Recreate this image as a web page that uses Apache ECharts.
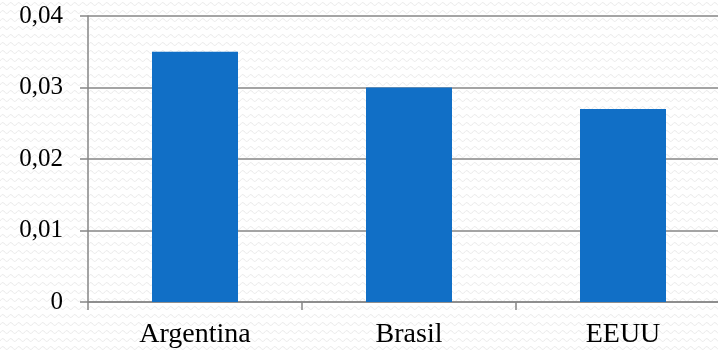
<!DOCTYPE html>
<html><head><meta charset="utf-8">
<script src="https://cdn.jsdelivr.net/npm/echarts@6/dist/echarts.min.js"></script>
<style>html,body{margin:0;padding:0;background:#fff;overflow:hidden}#c{width:730px;height:351px}</style>
</head><body><div id="c"></div>
<script>
var categories = ['Argentina', 'Brasil', 'EEUU'];
var values = [0.035, 0.03, 0.027];
var yTicks = [0, 0.01, 0.02, 0.03, 0.04];

// subtle wavy background pattern
var pc = document.createElement('canvas');
pc.width = 8; pc.height = 8;
var g = pc.getContext('2d');
g.fillStyle = '#ffffff'; g.fillRect(0, 0, 8, 8);
g.strokeStyle = '#ececec'; g.lineWidth = 1;
g.beginPath();
g.moveTo(0, 5); g.quadraticCurveTo(2, 1, 4, 3); g.quadraticCurveTo(6, 7, 8, 5);
g.stroke();

var chart = echarts.init(document.getElementById('c'), null, {renderer: 'canvas'});
chart.setOption({
  backgroundColor: {image: pc, repeat: 'repeat'},
  animation: false,
  grid: {left: 88, right: 0, top: 16, bottom: 49, containLabel: false},
  xAxis: {
    type: 'category', data: categories,
    axisLine: {lineStyle: {color: '#868686', width: 1.5}},
    axisTick: {show: true, length: 8, lineStyle: {color: '#868686', width: 1.5}},
    axisLabel: {fontFamily: 'Liberation Serif', fontSize: 28, color: '#000', margin: 19}
  },
  yAxis: {
    type: 'value', min: 0, max: 0.04, interval: 0.01,
    axisLine: {show: true, lineStyle: {color: '#868686', width: 1.5}},
    axisTick: {show: true, length: 8, lineStyle: {color: '#868686', width: 1.5}},
    splitLine: {lineStyle: {color: '#868686', width: 1.5}},
    axisLabel: {
      fontFamily: 'Liberation Serif', fontSize: 25, color: '#000', margin: 25,
      formatter: function (v) {
        for (var i = 0; i < yTicks.length; i++) {
          if (Math.abs(v - yTicks[i]) < 1e-9) return v === 0 ? '0' : String(yTicks[i]).replace('.', ',');
        }
        return '';
      }
    }
  },
  series: [{
    type: 'bar', data: values, barWidth: 86,
    itemStyle: {color: '#116FC6'}
  }]
});
</script></body></html>
